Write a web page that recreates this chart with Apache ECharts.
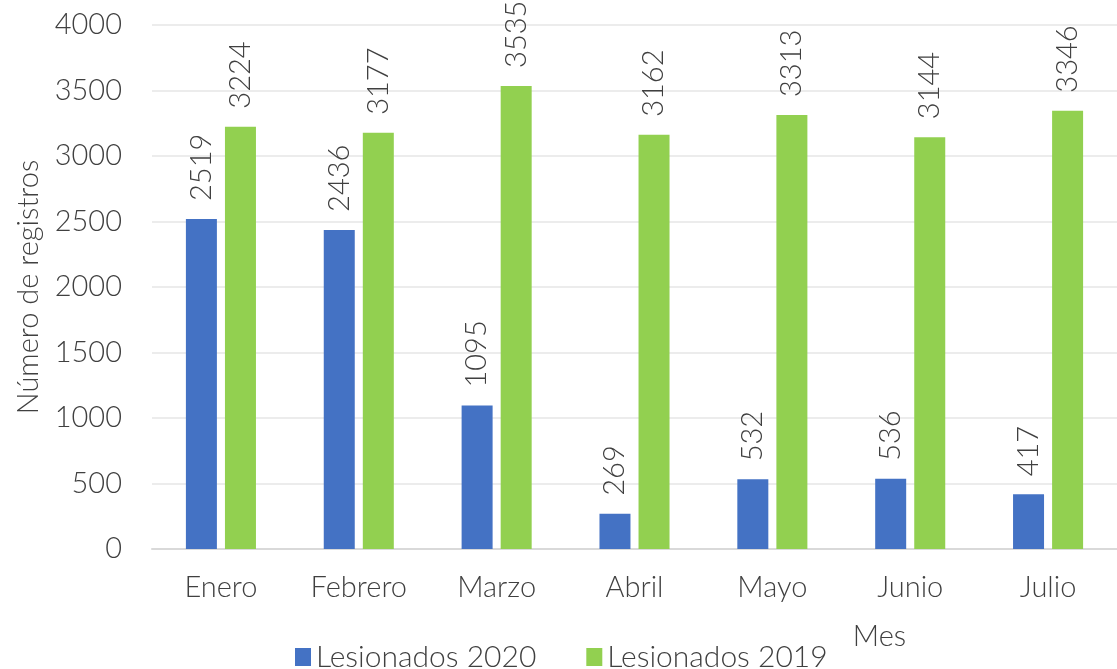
<!DOCTYPE html>
<html>
<head>
<meta charset="utf-8">
<script src="https://cdn.jsdelivr.net/npm/echarts@6/dist/echarts.min.js"></script>
<style>
  html, body { margin: 0; padding: 0; background: #fff; }
  #main { width: 1117px; height: 669px; }
</style>
</head>
<body>
<div id="main"></div>
<script>
// datos
var meses = ['Enero', 'Febrero', 'Marzo', 'Abril', 'Mayo', 'Junio', 'Julio'];
var lesionados2020 = [2519, 2436, 1095, 269, 532, 536, 417];
var lesionados2019 = [3224, 3177, 3535, 3162, 3313, 3144, 3346];
var yTicks = [0, 500, 1000, 1500, 2000, 2500, 3000, 3500, 4000];

var FONT = 'Lato';
var TXT = '#404040';
var FS = 29;

var etiqueta = {
  show: true,
  position: 'top',
  rotate: 90,
  align: 'left',
  verticalAlign: 'middle',
  distance: 18,
  fontFamily: FONT,
  fontWeight: 300,
  fontSize: FS,
  color: TXT
};

var myChart = echarts.init(document.getElementById('main'));
myChart.setOption({
  animation: false,
  textStyle: { fontFamily: FONT },
  grid: { left: 152, right: 0, top: 25, bottom: 120, outerBoundsMode: 'none', containLabel: false },
  legend: {
    bottom: -8,
    left: 290,
    itemWidth: 16,
    itemHeight: 18,
    itemGap: 50,
    icon: 'rect',
    textStyle: { fontFamily: FONT, fontWeight: 300, fontSize: 30, color: TXT },
    data: ['Lesionados 2020', 'Lesionados 2019']
  },
  xAxis: {
    type: 'category',
    data: meses,
    name: 'Mes',
    nameLocation: 'middle',
    nameGap: 73,
    nameTextStyle: {
      fontFamily: FONT, fontWeight: 300, fontSize: FS, color: TXT,
      align: 'center', verticalAlign: 'top',
      padding: [0, 0, 0, 490]
    },
    axisLine: { lineStyle: { color: '#d9d9d9', width: 2 } },
    axisTick: { show: false },
    axisLabel: { margin: 24, fontFamily: FONT, fontWeight: 300, fontSize: FS, color: TXT }
  },
  yAxis: {
    type: 'value',
    min: 0,
    max: 4000,
    interval: 500,
    name: 'Número de registros',
    nameLocation: 'middle',
    nameGap: 109,
    nameTextStyle: { fontFamily: FONT, fontWeight: 300, fontSize: FS, color: TXT },
    axisLine: { show: false },
    axisTick: { show: false },
    splitLine: { lineStyle: { color: '#ececec', width: 2 } },
    axisLabel: {
      margin: 30,
      fontFamily: FONT, fontWeight: 300, fontSize: FS, color: TXT,
      formatter: function (v) { return yTicks.indexOf(v) >= 0 ? String(v) : ''; }
    }
  },
  series: [{
    name: 'Lesionados 2020',
    type: 'bar',
    data: lesionados2020,
    barWidth: 31,
    barGap: '26%',
    itemStyle: { color: '#4472C4' },
    label: etiqueta
  }, {
    name: 'Lesionados 2019',
    type: 'bar',
    data: lesionados2019,
    barWidth: 31,
    itemStyle: { color: '#92D050' },
    label: etiqueta
  }]
});
</script>
</body>
</html>
